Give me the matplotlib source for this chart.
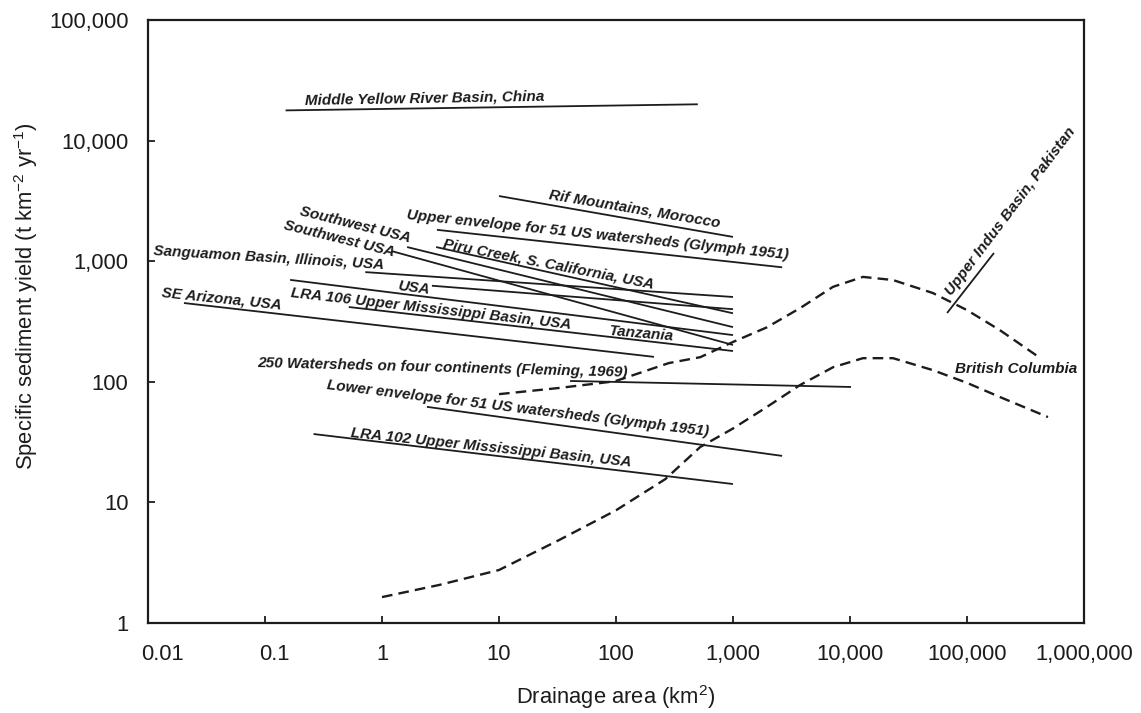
import matplotlib
matplotlib.use("Agg")
import matplotlib.pyplot as plt
import matplotlib.transforms as mtransforms
from matplotlib.ticker import FixedLocator, FixedFormatter, NullLocator

plt.rcParams['font.family'] = ['Liberation Sans', 'DejaVu Sans']
plt.rcParams['mathtext.fontset'] = 'custom'
plt.rcParams['mathtext.rm'] = 'Liberation Sans'
plt.rcParams['mathtext.it'] = 'Liberation Sans:italic'
plt.rcParams['mathtext.bf'] = 'Liberation Sans:bold'

# Regional relations: drainage area (km2) vs specific sediment yield (t km-2 yr-1)
yellow_area = [0.15, 500]
yellow_yield = [17800, 20000]
rif_area = [10, 1000]
rif_yield = [3470, 1590]
upper_env_area = [2.95, 2630]
upper_env_yield = [1820, 890]
piru_area = [2.9, 1000]
piru_yield = [1310, 370]
sw1_area = [1.64, 1000]
sw1_yield = [1310, 284]
sw2_area = [1.22, 1000]
sw2_yield = [1210, 202]
sanguamon_area = [0.72, 1000]
sanguamon_yield = [812, 505]
usa_area = [2.67, 1000]
usa_yield = [626, 400]
tanzania_area = [0.164, 1000]
tanzania_yield = [700, 244]
lra106_area = [0.52, 1000]
lra106_yield = [417, 180]
arizona_area = [0.0203, 211]
arizona_yield = [450, 161]
fleming_area = [40.5, 10200]
fleming_yield = [101.6, 90.6]
lower_env_area = [2.42, 2630]
lower_env_yield = [62, 24.3]
lra102_area = [0.26, 1000]
lra102_yield = [36.9, 14.2]
indus_area = [67600, 170000]
indus_yield = [372, 1170]

# British Columbia envelopes (dashed)
bc_upper_area = [10, 33, 98, 283, 525, 1000, 1950, 3740, 7160, 12900, 23300,
                 51000, 100000, 191000, 420000]
bc_upper_yield = [79, 89, 101, 143, 160, 214, 283, 408, 613, 741, 698,
                  545, 393, 268, 158]
bc_lower_area = [1, 3.1, 10, 33, 100, 264, 525, 1000, 1950, 3740, 7160, 12900,
                 23300, 51000, 100000, 191000, 492000]
bc_lower_yield = [1.64, 2.07, 2.75, 4.9, 8.6, 15.6, 28.8, 41, 61.9, 94, 132, 157,
                  157, 125, 98, 74.8, 51]

x_ticks = [0.01, 0.1, 1, 10, 100, 1000, 10000, 100000, 1000000]
x_tick_labels = ["0.01", "0.1", "1", "10", "100", "1,000", "10,000", "100,000", "1,000,000"]
y_ticks = [1, 10, 100, 1000, 10000, 100000]
y_tick_labels = ["1", "10", "100", "1,000", "10,000", "100,000"]

ink = '#1c1c1c'

fig = plt.figure(figsize=(11.41, 7.13), dpi=100)
ax = fig.add_axes([148 / 1141, 1 - 623 / 713, 936 / 1141, 603 / 713])
ax.set_xscale('log')
ax.set_yscale('log')
ax.set_xlim(0.01, 1e6)
ax.set_ylim(1, 1e5)

solid = [
    (yellow_area, yellow_yield), (rif_area, rif_yield),
    (upper_env_area, upper_env_yield), (piru_area, piru_yield),
    (sw1_area, sw1_yield), (sw2_area, sw2_yield),
    (sanguamon_area, sanguamon_yield), (usa_area, usa_yield),
    (tanzania_area, tanzania_yield), (lra106_area, lra106_yield),
    (arizona_area, arizona_yield), (fleming_area, fleming_yield),
    (lower_env_area, lower_env_yield), (lra102_area, lra102_yield),
    (indus_area, indus_yield),
]
for xs, ys in solid:
    ax.plot(xs, ys, color=ink, lw=1.3, solid_capstyle='butt')

for xs, ys in [(bc_upper_area, bc_upper_yield), (bc_lower_area, bc_lower_yield)]:
    ax.plot(xs, ys, color=ink, lw=1.7, linestyle=(0, (4.5, 2.6)))

# Curve labels: text, anchor area, anchor yield, rotation
labels = [
    ("Middle Yellow River Basin, China", 0.22, 20000, 1),
    ("Rif Mountains, Morocco", 26.2, 3280, -9.5),
    ("Upper envelope for 51 US watersheds (Glymph 1951)", 1.6, 2230, -6),
    ("Piru Creek, S. California, USA", 3.32, 1290, -11),
    ("Southwest USA", 0.195, 2415, -14),
    ("Southwest USA", 0.143, 1850, -14),
    ("Sanguamon Basin, Illinois, USA", 0.011, 1125, -3.5),
    ("USA", 1.34, 577, -7),
    ("LRA 106 Upper Mississippi Basin, USA", 0.164, 505, -6.5),
    ("SE Arizona, USA", 0.0129, 505, -6),
    ("Tanzania", 87, 244, -5),
    ("250 Watersheds on four continents (Fleming, 1969)", 0.0855, 133, -1.5),
    ("Lower envelope for 51 US watersheds (Glymph 1951)", 0.332, 87.3, -7),
    ("LRA 102 Upper Mississippi Basin, USA", 0.532, 34.8, -6),
    ("Upper Indus Basin, Pakistan", 74500, 514, 53),
    ("British Columbia", 78900, 118, 0),
]
for text, lx, ly, rot in labels:
    ax.text(lx, ly, text, rotation=rot, rotation_mode='anchor', ha='left',
            va='baseline', fontsize=11, fontweight='bold', fontstyle='italic',
            color=ink)

# Axes frame and ticks
for sp in ax.spines.values():
    sp.set_linewidth(1.6)
    sp.set_color(ink)
ax.xaxis.set_major_locator(FixedLocator(x_ticks))
ax.xaxis.set_major_formatter(FixedFormatter(x_tick_labels))
ax.yaxis.set_major_locator(FixedLocator(y_ticks))
ax.yaxis.set_major_formatter(FixedFormatter(y_tick_labels))
ax.xaxis.set_minor_locator(NullLocator())
ax.yaxis.set_minor_locator(NullLocator())
ax.tick_params(axis='both', which='major', direction='in', length=5, width=1.3,
               color=ink, labelcolor=ink, labelsize=15.8, top=False, right=False)
ax.tick_params(axis='x', pad=15)
ax.tick_params(axis='y', pad=14)

fig.canvas.draw()
x_shift = {"0.01": 15, "0.1": 9}
for lab in ax.get_xticklabels():
    dx = x_shift.get(lab.get_text(), 0)
    if dx:
        lab.set_transform(lab.get_transform() +
                          mtransforms.ScaledTranslation(dx / 100, 0, fig.dpi_scale_trans))

ax.set_xlabel(r"Drainage area (km$\mathregular{^2}$)", fontsize=15.8, color=ink)
ax.xaxis.label.set_va('center')
ax.xaxis.set_label_coords(0.5, (623 - 697) / 603)
ax.set_ylabel(r"Specific sediment yield (t km$\mathregular{^{-2}}$ yr$\mathregular{^{-1}}$)",
              fontsize=15.8, color=ink)
ax.yaxis.label.set_va('center')
ax.yaxis.set_label_coords((26 - 148) / 936, (623 - 296) / 603)

fig.savefig("out.png", dpi=100)
